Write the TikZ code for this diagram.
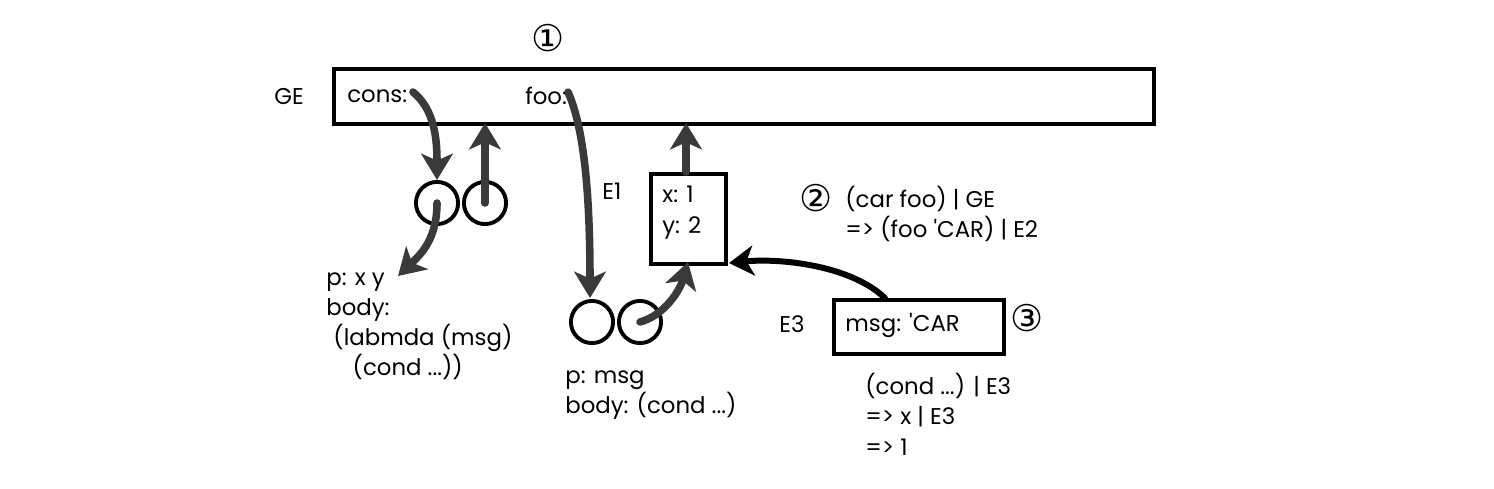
\documentclass[tikz,border=0pt]{standalone}
\usepackage{fontspec}
\setmainfont{Poppins}[Ligatures=TeXOff]
\newfontfamily\symfont{DejaVu Sans}
\usetikzlibrary{arrows.meta}
\definecolor{arr}{HTML}{3A3A3A}
\tikzset{
  envbox/.style={draw=black, line width=2.3pt, fill=white},
  ptr/.style={draw=arr, line width=4.3pt, line cap=round, -{Stealth[length=15pt,width=18pt,inset=4pt]}},
  ptrb/.style={draw=black, line width=3.4pt, line cap=round, -{Stealth[length=14pt,width=17pt,inset=4pt]}},
  cell/.style={draw=black, line width=2.2pt, circle, minimum size=24pt, inner sep=0pt},
  lbl/.style={font=\fontsize{13}{17.2}\selectfont, inner sep=0pt, anchor=west},
  mlbl/.style={font=\fontsize{13}{17.2}\selectfont, inner sep=0pt, anchor=north west, align=left},
  circnum/.style={font=\symfont\fontsize{21}{21}\selectfont, inner sep=0pt},
}
\begin{document}
\begin{tikzpicture}[x=0.02cm,y=-0.02cm]
\useasboundingbox (0,0) rectangle (1494,488);
% Global environment
\node[envbox, minimum width=820*0.02cm, minimum height=55*0.02cm, anchor=north west, inner sep=0pt] (GE) at (332,67) {};
\node[lbl] (GElbl) at (274,97) {GE};
\node[lbl] (cons) at (347,96) {cons:};
\node[lbl] (foo) at (525,96) {foo:};
\node[circnum] (n1) at (548,38) {①};
% pair 1
\node[cell] (c1a) at (437,203) {};
\node[cell] (c1b) at (485,203) {};
% pair 2
\node[cell] (c2a) at (592,322) {};
\node[cell] (c2b) at (640,322) {};
% E1
\node[envbox, minimum width=75*0.02cm, minimum height=90*0.02cm, anchor=north west, inner sep=0pt] (E1) at (649,172) {};
\node[lbl] (E1lbl) at (602,191) {E1};
\node[mlbl] (E1txt) at (662,186) {x: 1\\y: 2};
% E3
\node[envbox, minimum width=170*0.02cm, minimum height=54*0.02cm, anchor=north west, inner sep=0pt] (E3) at (832,298) {};
\node[lbl] (E3lbl) at (779,324) {E3};
\node[lbl] (msg) at (845,325) {msg: 'CAR};
\node[circnum] (n3) at (1027,318) {③};
% texts
\node[mlbl] (lam) at (326,272) {p: x y\\body:\\\hspace*{4pt}(labmda (msg)\\\hspace*{15pt}(cond ...))};
\node[mlbl] (proc2) at (565,370) {p: msg\\body: (cond ...)};
\node[circnum] (n2) at (816,198) {②};
\node[mlbl] (ev2) at (845,186) {(car foo) | GE\\=> (foo 'CAR) | E2};
\node[mlbl] (ev3) at (865,373) {(cond ...) | E3\\=> x | E3\\=> 1};
% connector endpoints
\coordinate (consS) at (413,92);
\coordinate (fooS) at (568,92);
\coordinate (GEb1) at (485,123);
\coordinate (GEb2) at (686,123);
\coordinate (c1top) at (437,180);
\coordinate (c2top) at (590,298);
\coordinate (lamT) at (398,276);
\coordinate (E1b) at (688,262);
\coordinate (E1rb) at (729,263);
\coordinate (E3t) at (885,298);
% arrows
\draw[ptr] (consS) .. controls (435,110) and (437,140) .. (c1top);
\draw[ptr] (c1b.center) -- (GEb1);
\draw[ptr] (c1a.center) .. controls (437,240) and (420,255) .. (lamT);
\draw[ptr] (fooS) .. controls (585,130) and (590,200) .. (c2top);
\draw[ptr] (c2b.center) .. controls (665,315) and (680,290) .. (E1b);
\draw[ptr] (E1.north -| GEb2) -- (GEb2);
\draw[ptrb] (E3t) .. controls (850,265) and (780,258) .. (E1rb);
\end{tikzpicture}
\end{document}
